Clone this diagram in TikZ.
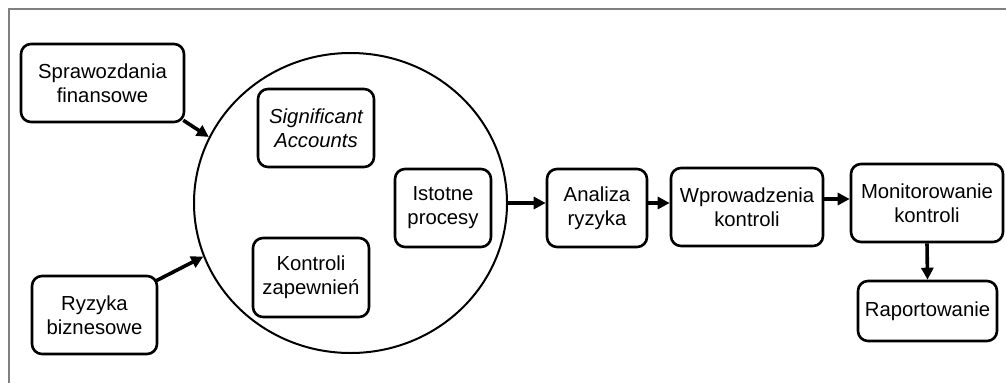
\documentclass[tikz,border=0pt]{standalone}
\usepackage{fontspec}
\setmainfont{Liberation Sans}
\usetikzlibrary{shapes.geometric,arrows.meta}

\begin{document}
\begin{tikzpicture}[x=1pt, y=1pt,
    box/.style={draw, rounded corners=10pt, line width=2.6pt, align=center, inner sep=0pt,
      font=\fontsize{20.3}{24}\selectfont},
    arr/.style={line width=3.6pt, -{Triangle[length=12pt,width=12pt]}}]
    \useasboundingbox (0,0) rectangle (1006,-383);
    \draw[gray, line width=1.5pt] (9,-383) -- (9,-9) -- (1006,-9);

    \node[draw, ellipse, line width=2pt, minimum width=313pt, minimum height=300pt, inner sep=0pt] (ell) at (350.5,-203) {};
    \node[box, minimum width=163pt, minimum height=78pt] (spr) at (102.5,-83) {Sprawozdania\\finansowe};
    \node[box, minimum width=125pt, minimum height=78pt] (ryz) at (94.5,-315) {Ryzyka\\biznesowe};
    \node[box, minimum width=116pt, minimum height=78pt] (sig) at (316,-128) {\itshape Significant\\\itshape Accounts};
    \node[box, minimum width=96pt, minimum height=78pt] (ist) at (443,-208) {Istotne\\procesy};
    \node[box, minimum width=116pt, minimum height=79pt] (kon) at (311,-277.5) {Kontroli\\zapewnie\'n};
    \node[box, minimum width=100pt, minimum height=78pt] (ana) at (597,-208) {Analiza\\ryzyka};
    \node[box, minimum width=152pt, minimum height=78pt] (wpr) at (747,-207) {Wprowadzenia\\kontroli};
    \node[box, minimum width=152pt, minimum height=78pt] (mon) at (927,-203) {Monitorowanie\\kontroli};
    \node[box, minimum width=139pt, minimum height=60pt] (rap) at (927.5,-311) {Raportowanie};

    \draw[arr] ([shift={(-2pt,3pt)}]spr.south east) -- (ell.155);
    \draw[arr] ([shift={(-2pt,-6pt)}]ryz.north east) -- (ell.200);
    \draw[arr] (ell.east) -- (ana.west |- ell.east);
    \draw[arr] (ana.east |- ell.east) -- (wpr.west |- ell.east);
    \draw[arr] ([yshift=8pt]wpr.east) -- ([yshift=4pt]mon.west);
    \draw[arr] (mon.south) -- (rap.north);
\end{tikzpicture}
\end{document}
